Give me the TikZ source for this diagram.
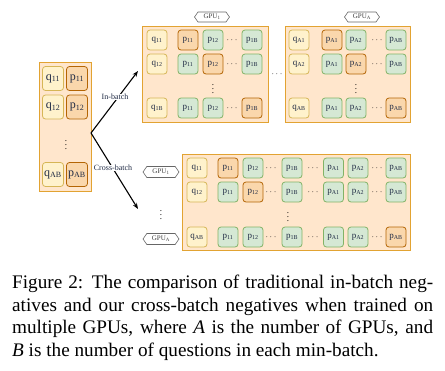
\documentclass[tikz,border=0pt]{standalone}
\usepackage{fontspec}
\setmainfont{Liberation Serif}
\usepackage{tikz}
\usetikzlibrary{arrows.meta, shapes.symbols}
\usepackage{xcolor}
\definecolor{boxFill}{HTML}{FFE6CC}
\definecolor{boxLine}{HTML}{E2A332}
\definecolor{qFill}{HTML}{FFF2CC}
\definecolor{qLine}{HTML}{D6B656}
\definecolor{pFill}{HTML}{D5E8D4}
\definecolor{pLine}{HTML}{82B366}
\definecolor{posFill}{HTML}{FAD7AC}
\definecolor{posLine}{HTML}{B46504}
\definecolor{cellText}{HTML}{1F2A44}

\tikzset{
    batchbox/.style={fill=boxFill, draw=boxLine, line width=0.9pt},
    cell/.style={rounded corners=3pt, line width=0.8pt, minimum width=20pt, minimum height=20pt,
        inner sep=0pt, text=cellText, font=\fontsize{9}{9}\selectfont},
    qcell/.style={cell, fill=qFill, draw=qLine},
    pcell/.style={cell, fill=pFill, draw=pLine},
    poscell/.style={cell, fill=posFill, draw=posLine},
    bigcell/.style={minimum width=21pt, minimum height=24pt, font=\fontsize{12}{12}\selectfont},
    gputag/.style={shape=signal, signal to=west and east, signal pointer angle=110, draw=gray!80!black,
        fill=white, line width=0.6pt, minimum width=35pt, minimum height=10pt, inner sep=0pt,
        text=darkgray, font=\fontsize{7}{7}\selectfont},
    dotsmark/.style={inner sep=0pt, font=\fontsize{9}{9}\selectfont},
    edgelabel/.style={fill=white, inner sep=0.5pt, text=cellText, font=\fontsize{8}{8}\selectfont},
}

\begin{document}
\begin{tikzpicture}[x=1pt, y=-1pt]
    \useasboundingbox (0,0) rectangle (445,370);

    % Batch on one GPU
    \node[batchbox, minimum width=52pt, minimum height=129pt] (leftBox) at (65,126.5) {};
    \node[qcell, bigcell] (lq1) at (53,78.5) {q\textsubscript{11}};
    \node[poscell, bigcell] (lp1) at (77,78.5) {p\textsubscript{11}};
    \node[qcell, bigcell] (lq2) at (53,107) {q\textsubscript{12}};
    \node[poscell, bigcell] (lp2) at (77,107) {p\textsubscript{12}};
    \node[dotsmark] (ldots) at (66,142) {$\vdots$};
    \node[qcell, bigcell] (lq3) at (53,174.5) {q\textsubscript{AB}};
    \node[poscell, bigcell] (lp3) at (77,174.5) {p\textsubscript{AB}};

    % Arrows
    \coordinate (fork) at (91,133);
    \coordinate (inEnd) at (138,71);
    \coordinate (crossEnd) at (138,209);
    \draw[line width=1.1pt, -{Stealth[length=6pt, width=4.5pt]}] (fork) -- (inEnd);
    \draw[line width=1.1pt, -{Stealth[length=6pt, width=4.5pt]}] (fork) -- (crossEnd);
    \node[edgelabel] (inLbl) at (115,97) {In-batch};
    \node[edgelabel] (crossLbl) at (113,168) {Cross-batch};

    % In-batch: GPU_1
    \node[batchbox, minimum width=126pt, minimum height=96pt] (gpuOneBox) at (205,74) {};
    \node[gputag] (gpuOneTag) at (212,17) {GPU\textsubscript{1}};
    \node[qcell] (aq1) at (157,40) {q\textsubscript{11}};
    \node[poscell] (ap11) at (188,40) {p\textsubscript{11}};
    \node[pcell] (ap12) at (213,40) {p\textsubscript{12}};
    \node[dotsmark] (ad1) at (232,40) {$\cdots$};
    \node[pcell] (ap13) at (252,40) {p\textsubscript{1B}};
    \node[qcell] (aq2) at (157,64) {q\textsubscript{12}};
    \node[pcell] (ap21) at (188,64) {p\textsubscript{11}};
    \node[poscell] (ap22) at (213,64) {p\textsubscript{12}};
    \node[dotsmark] (ad2) at (232,64) {$\cdots$};
    \node[pcell] (ap23) at (252,64) {p\textsubscript{1B}};
    \node[dotsmark] (avd) at (213,86) {$\vdots$};
    \node[qcell] (aq3) at (157,108) {q\textsubscript{1B}};
    \node[pcell] (ap31) at (188,108) {p\textsubscript{11}};
    \node[pcell] (ap32) at (213,108) {p\textsubscript{12}};
    \node[dotsmark] (ad3) at (232,108) {$\cdots$};
    \node[poscell] (ap33) at (252,108) {p\textsubscript{1B}};

    \node[dotsmark] (gapDots) at (277,74) {$\cdots$};

    % In-batch: GPU_A
    \node[batchbox, minimum width=125pt, minimum height=96pt] (gpuABox) at (347.5,74) {};
    \node[gputag] (gpuATag) at (362,17) {GPU\textsubscript{A}};
    \node[qcell] (bq1) at (299,40) {q\textsubscript{A1}};
    \node[poscell] (bp11) at (332,40) {p\textsubscript{A1}};
    \node[pcell] (bp12) at (356,40) {p\textsubscript{A2}};
    \node[dotsmark] (bd1) at (377,40) {$\cdots$};
    \node[pcell] (bp13) at (396,40) {p\textsubscript{AB}};
    \node[qcell] (bq2) at (299,64) {q\textsubscript{A2}};
    \node[pcell] (bp21) at (332,64) {p\textsubscript{A1}};
    \node[poscell] (bp22) at (356,64) {p\textsubscript{A2}};
    \node[dotsmark] (bd2) at (377,64) {$\cdots$};
    \node[pcell] (bp23) at (396,64) {p\textsubscript{AB}};
    \node[dotsmark] (bvd) at (356,86) {$\vdots$};
    \node[qcell] (bq3) at (299,108) {q\textsubscript{AB}};
    \node[pcell] (bp31) at (332,108) {p\textsubscript{A1}};
    \node[pcell] (bp32) at (356,108) {p\textsubscript{A2}};
    \node[dotsmark] (bd3) at (377,108) {$\cdots$};
    \node[poscell] (bp33) at (396,108) {p\textsubscript{AB}};

    % Cross-batch
    \node[gputag, minimum width=36pt, minimum height=11pt] (crossOneTag) at (161,172) {GPU\textsubscript{1}};
    \node[dotsmark] (tagDots) at (161,212) {$\vdots$};
    \node[gputag, minimum width=36pt, minimum height=11pt] (crossATag) at (161,239) {GPU\textsubscript{A}};
    \node[batchbox, minimum width=228pt, minimum height=96pt] (crossBox) at (296,202) {};
    \node[qcell] (cq1) at (197,168) {q\textsubscript{11}};
    \node[poscell] (c11) at (228,168) {p\textsubscript{11}};
    \node[pcell] (c12) at (253,168) {p\textsubscript{12}};
    \node[dotsmark] (cd11) at (271,168) {$\cdots$};
    \node[pcell] (c13) at (292,168) {p\textsubscript{1B}};
    \node[dotsmark] (cd12) at (313,168) {$\cdots$};
    \node[pcell] (c14) at (333.5,168) {p\textsubscript{A1}};
    \node[pcell] (c15) at (358,168) {p\textsubscript{A2}};
    \node[dotsmark] (cd13) at (377,168) {$\cdots$};
    \node[pcell] (c16) at (396,168) {p\textsubscript{AB}};
    \node[qcell] (cq2) at (197,192) {q\textsubscript{12}};
    \node[pcell] (c21) at (228,192) {p\textsubscript{11}};
    \node[poscell] (c22) at (253,192) {p\textsubscript{12}};
    \node[dotsmark] (cd21) at (271,192) {$\cdots$};
    \node[pcell] (c23) at (292,192) {p\textsubscript{1B}};
    \node[dotsmark] (cd22) at (313,192) {$\cdots$};
    \node[pcell] (c24) at (333.5,192) {p\textsubscript{A1}};
    \node[pcell] (c25) at (358,192) {p\textsubscript{A2}};
    \node[dotsmark] (cd23) at (377,192) {$\cdots$};
    \node[pcell] (c26) at (396,192) {p\textsubscript{AB}};
    \node[dotsmark] (cvd) at (288,214) {$\vdots$};
    \node[qcell] (cq3) at (197,237) {q\textsubscript{AB}};
    \node[pcell] (c31) at (228,237) {p\textsubscript{11}};
    \node[pcell] (c32) at (253,237) {p\textsubscript{12}};
    \node[dotsmark] (cd31) at (271,237) {$\cdots$};
    \node[pcell] (c33) at (292,237) {p\textsubscript{1B}};
    \node[dotsmark] (cd32) at (313,237) {$\cdots$};
    \node[pcell] (c34) at (333.5,237) {p\textsubscript{A1}};
    \node[pcell] (c35) at (358,237) {p\textsubscript{A2}};
    \node[dotsmark] (cd33) at (377,237) {$\cdots$};
    \node[poscell] (c36) at (396,237) {p\textsubscript{AB}};

    % Caption
    \node[anchor=north west, inner sep=0pt, text width=421pt, align=justify,
        font=\fontsize{19.2}{22.5}\selectfont] (caption) at (12,275)
        {Figure 2: The comparison of traditional in-batch neg-\linebreak
        atives and our cross-batch negatives when trained on\linebreak
        multiple GPUs, where \textit{A} is the number of GPUs, and\linebreak
        \textit{B} is the number of questions in each min-batch.};
\end{tikzpicture}
\end{document}
